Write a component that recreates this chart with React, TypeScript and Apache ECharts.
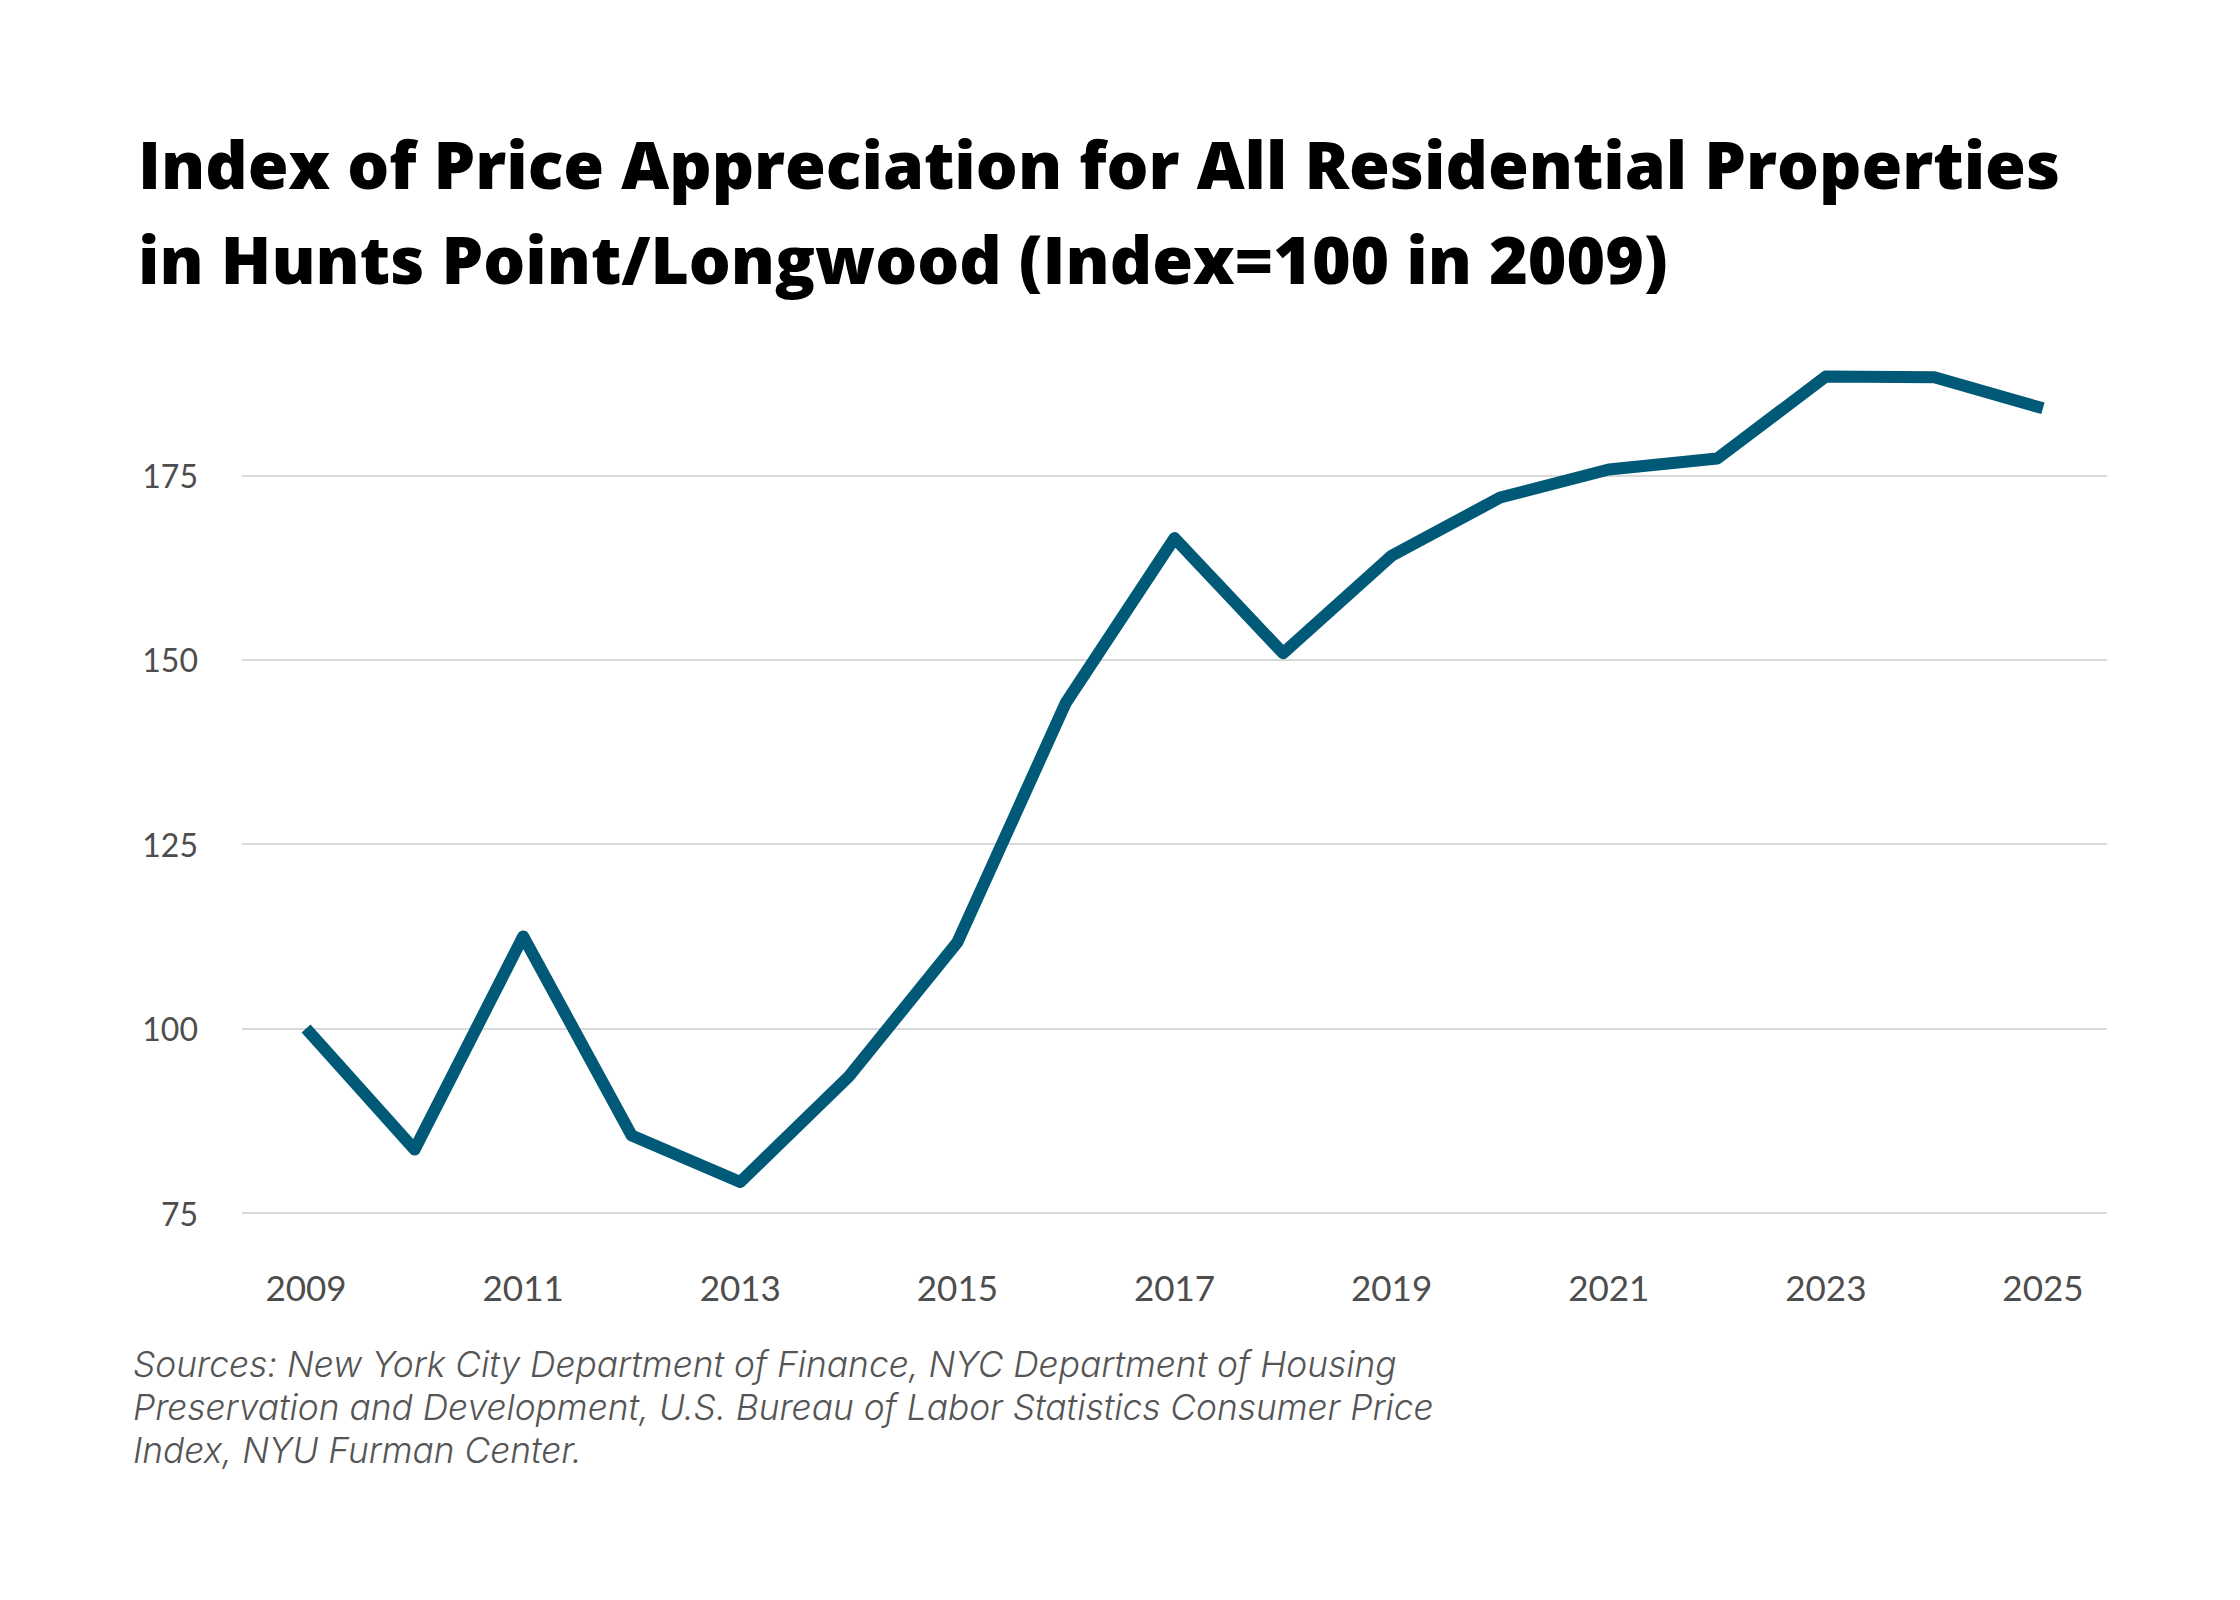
import React, { useEffect, useRef } from "react";
import * as echarts from "echarts";

const years = [2009, 2010, 2011, 2012, 2013, 2014, 2015, 2016, 2017, 2018, 2019, 2020, 2021, 2022, 2023, 2024, 2025];
const indexValues = [100, 83.6, 112.5, 85.5, 79.2, 93.5, 111.7, 144.2, 166.5, 150.9, 164.1, 172.0, 175.8, 177.3, 188.4, 188.3, 184.1];
const xTickLabels = [2009, 2011, 2013, 2015, 2017, 2019, 2021, 2023, 2025];
const titleText = "Index of Price Appreciation for All Residential Properties\nin Hunts Point/Longwood (Index=100 in 2009)";
const sourcesText =
  "Sources: New York City Department of Finance, NYC Department of Housing\nPreservation and Development, U.S. Bureau of Labor Statistics Consumer Price\nIndex, NYU Furman Center.";

export default function App() {
  const ref = useRef<HTMLDivElement>(null);
  useEffect(() => {
    if (!ref.current) return;
    const chart = echarts.init(ref.current, null, { renderer: "svg" });
    const data = years.map((y, i) => [y, indexValues[i]]);
    chart.setOption({
      animation: false,
      backgroundColor: "#ffffff",
      title: {
        text: titleText,
        left: 133,
        top: 110,
        textStyle: {
          fontFamily: "Open Sans",
          fontWeight: 800,
          fontSize: 66,
          lineHeight: 95,
          color: "#000000",
        },
      },
      grid: { left: 242, right: 133, top: 291, bottom: 1600 - 1213 },
      xAxis: {
        type: "value",
        min: 2008.41,
        max: 2025.59,
        axisLine: { show: false },
        axisTick: { show: false },
        splitLine: { show: false },
        axisLabel: {
          customValues: xTickLabels,
          formatter: (v: number) => String(v),
          color: "#4d4d4d",
          fontFamily: "Lato",
          fontSize: 35,
          margin: 56,
        },
      },
      yAxis: {
        type: "value",
        min: 75,
        max: 200,
        interval: 25,
        axisLine: { show: false },
        axisTick: { show: false },
        axisLabel: {
          color: "#4d4d4d",
          fontFamily: "Lato",
          fontSize: 32,
          margin: 44,
          formatter: (v: number) => (v >= 200 ? "" : String(v)),
        },
        splitLine: {
          lineStyle: {
            color: ["#cccccc", "#cccccc", "#cccccc", "#cccccc", "#cccccc", "rgba(0,0,0,0)"],
            width: 1.5,
          },
        },
      },
      series: [
        {
          type: "line",
          data,
          symbol: "none",
          lineStyle: { color: "#005a77", width: 12, cap: "butt", join: "round" },
        },
      ],
      graphic: [
        {
          type: "text",
          left: 133,
          top: 1343,
          style: {
            text: sourcesText,
            fontFamily: "Inter",
            fontStyle: "italic",
            fontWeight: 300,
            fontSize: 35.3,
            lineHeight: 43,
            fill: "#555555",
          },
        },
      ],
    });
    return () => chart.dispose();
  }, []);
  return (
    <div
      ref={ref}
      style={{ position: "fixed", left: 0, top: 0, width: 2240, height: 1600, background: "#fff" }}
    />
  );
}
